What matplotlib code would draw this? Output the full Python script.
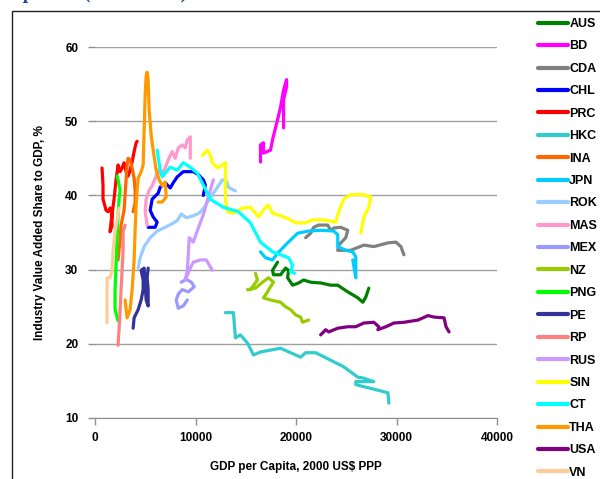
#!/usr/bin/env python
"""Industry value added share vs GDP per capita paths, by economy."""

import matplotlib
matplotlib.use("Agg")
import matplotlib.pyplot as plt
from matplotlib.patches import Rectangle

# GDP per capita (2000 US$ PPP) and industry share of GDP (%) per economy
aus_gdp = [18164, 17665, 17764, 18463, 18962, 19261, 19162, 19661, 20259, 20758, 21457,
           22455, 23453, 24152, 25150, 26148, 26647, 26946, 27245]
aus_share = [31.0, 29.9, 29.3, 29.3, 30.2, 29.9, 28.9, 27.9, 28.2, 28.6, 28.3,
             28.2, 27.9, 27.9, 27.0, 26.2, 25.6, 26.3, 27.5]

bd_gdp = [16467, 16467, 16766, 16766, 17465, 17665, 18164, 18463, 18763, 19062, 19062, 18763, 18763]
bd_share = [44.5, 46.8, 47.1, 45.7, 46.1, 47.5, 50.2, 51.9, 54.2, 55.6, 54.6, 52.9, 49.1]

cda_gdp = [20958, 21457, 21756, 22255, 23154, 23453, 23752, 24451, 25150, 24950, 24251,
           24152, 25449, 26746, 27745, 29142, 29940, 30439, 30738]
cda_share = [34.3, 34.9, 35.7, 36.0, 36.0, 35.3, 35.6, 35.7, 35.3, 34.3, 33.3,
             32.6, 32.6, 33.3, 33.1, 33.6, 33.7, 33.1, 32.0]

chl_gdp = [5289, 5988, 6188, 5788, 5489, 5689, 6287, 6487, 6986, 7485, 7784, 8184,
           8782, 9780, 10279, 10778, 10978, 10778]
chl_share = [35.7, 35.7, 36.4, 37.1, 38.0, 39.5, 40.3, 41.1, 41.7, 41.0, 41.7, 42.5,
             43.2, 43.2, 42.8, 42.1, 41.4, 40.0]

prc_gdp = [699, 798, 798, 1098, 1297, 1497, 1697, 1697, 1497, 1597, 1896, 2096, 2295,
           2495, 2695, 2894, 3094, 3293, 3493, 3693, 3892, 4092, 4192]
prc_share = [43.7, 41.4, 39.5, 38.0, 37.8, 38.3, 37.4, 35.9, 35.1, 36.4, 39.5, 42.1, 44.1,
             43.2, 43.7, 44.4, 43.2, 42.6, 43.4, 44.5, 45.9, 47.1, 47.3]

hkc_gdp = [12974, 13772, 13972, 14471, 15170, 15768, 16467, 18463, 20459, 20958, 21956,
           24750, 26148, 26647, 27745, 25948, 25948, 29142, 29242]
hkc_share = [24.2, 24.2, 20.8, 21.2, 20.1, 18.5, 18.9, 19.4, 18.2, 18.8, 18.8,
             16.9, 15.5, 15.4, 14.9, 14.9, 14.5, 13.4, 12.0]

ina_gdp = [2295, 2495, 2595, 2894, 2994, 3094, 3194, 3293, 3493, 3693, 3892, 3992, 3992, 3792]
ina_share = [31.3, 34.0, 36.0, 38.0, 40.1, 42.1, 44.1, 45.0, 44.8, 43.7, 42.3, 40.7, 39.0, 37.8]

jpn_gdp = [16467, 16966, 17665, 18164, 19162, 20160, 21257, 22455, 23752, 24152, 24152,
           24950, 25649, 25948, 25948, 25649]
jpn_share = [32.4, 31.6, 31.3, 32.2, 33.6, 34.9, 35.2, 35.3, 35.2, 34.7, 33.1,
             32.6, 32.4, 31.7, 28.9, 31.3]

rok_gdp = [4291, 4491, 4890, 5489, 6188, 6986, 7685, 8184, 8583, 9082, 9681, 10379,
           10878, 11377, 11776, 12275, 12675, 13074, 13273, 13972]
rok_share = [30.2, 31.6, 33.1, 34.3, 35.2, 35.7, 36.2, 36.6, 37.5, 37.0, 37.2, 37.6,
             38.4, 39.5, 40.3, 41.3, 42.1, 41.9, 41.1, 40.6]

mas_gdp = [5190, 4990, 5090, 5389, 5689, 5988, 6287, 6587, 6986, 7285, 7685, 7984,
           8283, 8683, 8982, 9182, 9481, 9481]
mas_share = [36.0, 37.8, 39.5, 40.7, 41.3, 42.3, 43.4, 42.8, 43.7, 44.8, 45.9, 45.0,
             46.4, 46.8, 46.4, 47.5, 47.9, 45.0]

mex_gdp = [8583, 9082, 9581, 9880, 9281, 8683, 8283, 8084, 8283, 8782, 9182]
mex_share = [28.3, 28.7, 28.3, 27.7, 27.0, 27.3, 26.7, 25.9, 24.8, 25.1, 25.9]

nz_gdp = [15968, 16167, 15469, 15170, 15968, 16667, 17265, 17764, 17465, 17166, 16766,
          17465, 18463, 18962, 19461, 19960, 20459, 20658, 21257]
nz_share = [29.5, 28.6, 27.3, 27.3, 27.5, 28.3, 28.9, 28.3, 27.7, 27.0, 26.2,
            25.9, 25.6, 25.0, 24.6, 23.9, 23.6, 22.9, 23.2]

png_gdp = [2295, 1996, 1996, 2096, 2196, 2295, 2395, 2495, 2295, 2196]
png_share = [23.1, 24.6, 27.3, 30.6, 34.0, 37.4, 39.5, 40.7, 42.1, 42.6]

pe_gdp = [3792, 3892, 4291, 4591, 4790, 4790, 4591, 4890, 4990, 5090, 5289, 5289, 5190, 5289]
pe_share = [22.1, 23.5, 24.6, 25.9, 27.3, 28.6, 29.9, 30.2, 27.9, 25.9, 25.1, 27.3, 28.9, 30.2]

rp_gdp = [2295, 2395, 2495, 2595, 2695, 2794, 2794, 2994]
rp_share = [19.8, 21.9, 24.6, 27.3, 29.9, 32.6, 35.1, 36.0]

rus_gdp = [11776, 11277, 10778, 10279, 9780, 9381, 9281, 9182, 8982, 9481, 9780, 10479, 11078, 11677]
rus_share = [42.1, 39.8, 37.4, 35.6, 33.7, 34.3, 32.0, 29.9, 28.6, 30.2, 31.0, 31.3, 31.3, 29.9]

sin_gdp = [10679, 11178, 11477, 11677, 12176, 12675, 12974, 12974, 13174, 13772, 14671,
           15469, 16267, 16966, 17265, 17665, 18164, 19162, 19960, 20958, 21656, 22754,
           23952, 24251, 24750, 25449, 26647, 27445, 27245, 26746, 26447]
sin_share = [45.4, 46.1, 45.4, 44.4, 43.7, 44.1, 44.4, 39.5, 37.8, 37.6, 38.3,
             38.4, 37.1, 38.4, 38.7, 37.6, 37.4, 36.9, 36.3, 36.3, 36.7, 36.7,
             36.4, 37.8, 39.5, 40.1, 40.1, 39.8, 38.4, 37.1, 34.9]

ct_gdp = [6188, 6487, 6687, 6986, 7485, 8184, 8782, 9481, 10180, 10778, 11477, 12774,
          14271, 15469, 16467, 17665, 19261, 19661, 19461, 19860]
ct_share = [46.1, 43.4, 42.5, 43.0, 43.8, 43.4, 44.4, 43.8, 43.0, 41.4, 39.5, 38.4,
            37.8, 36.3, 33.7, 32.4, 31.6, 30.6, 29.7, 29.5]

tha_gdp = [2994, 3194, 3493, 3693, 3892, 3992, 4092, 4192, 4291, 4591, 4790, 4890,
           4990, 5090, 5190, 5289, 5389, 5589, 5788, 6088, 6387, 6687, 6986, 7086, 6687, 6287]
tha_share = [25.9, 23.5, 24.6, 27.3, 31.3, 35.3, 38.7, 40.7, 42.3, 43.2, 44.1, 48.8,
             53.5, 56.2, 56.6, 55.6, 51.5, 48.1, 46.1, 43.4, 42.1, 41.3, 41.8, 39.8, 39.1, 39.1]

usa_gdp = [22455, 22954, 23253, 24152, 25150, 25948, 26746, 27745, 28243, 28144, 28942,
           29740, 30738, 32136, 33134, 33732, 34730, 34930, 35229]
usa_share = [21.2, 21.9, 21.6, 22.1, 22.3, 22.3, 22.8, 22.9, 22.3, 21.9, 22.3,
             22.8, 22.9, 23.2, 23.8, 23.6, 23.5, 22.3, 21.6]

vn_gdp = [1198, 1198, 1198, 1497, 1697, 1796, 1996, 2196, 2395]
vn_share = [22.8, 25.9, 28.9, 28.9, 29.9, 32.6, 35.1, 36.7, 38.3]

names = ["AUS", "BD", "CDA", "CHL", "PRC", "HKC", "INA", "JPN", "ROK", "MAS", "MEX",
         "NZ", "PNG", "PE", "RP", "RUS", "SIN", "CT", "THA", "USA", "VN"]
gdp_series = [aus_gdp, bd_gdp, cda_gdp, chl_gdp, prc_gdp, hkc_gdp, ina_gdp, jpn_gdp,
              rok_gdp, mas_gdp, mex_gdp, nz_gdp, png_gdp, pe_gdp, rp_gdp, rus_gdp,
              sin_gdp, ct_gdp, tha_gdp, usa_gdp, vn_gdp]
share_series = [aus_share, bd_share, cda_share, chl_share, prc_share, hkc_share, ina_share,
                jpn_share, rok_share, mas_share, mex_share, nz_share, png_share, pe_share,
                rp_share, rus_share, sin_share, ct_share, tha_share, usa_share, vn_share]
colors = ["#008000", "#FF00FF", "#808080", "#0000FF", "#FF0000", "#33CCCC", "#FF6600",
          "#00CCFF", "#99CCFF", "#FF99CC", "#9999FF", "#99CC00", "#00FF00", "#333399",
          "#FF8080", "#CC99FF", "#FFFF00", "#00FFFF", "#FF9900", "#800080", "#FFCC99"]

plt.rcParams["font.family"] = ["Liberation Sans", "DejaVu Sans"]

fig = plt.figure(figsize=(6.0, 4.79), dpi=100)
ax = fig.add_axes([95 / 600, 61 / 479, 402 / 600, 371 / 479])

lines = []
for name, x, y, c in zip(names, gdp_series, share_series, colors):
    (ln,) = ax.plot(x, y, color=c, lw=2.3, solid_joinstyle="round",
                    solid_capstyle="round", label=name)
    lines.append(ln)

ax.set_xlim(0, 40000)
ax.set_ylim(10, 60)
ax.set_xticks(range(0, 40001, 10000))
ax.set_yticks(range(10, 61, 10))
ax.grid(axis="y", color="#A0A0A0", lw=1)
ax.set_axisbelow(True)
for side in ["top", "right", "left"]:
    ax.spines[side].set_visible(False)
ax.spines["bottom"].set_color("#909090")
ax.tick_params(axis="both", colors="#909090", length=5, width=1,
               labelcolor="black", labelsize=8.5)
for lbl in ax.get_xticklabels() + ax.get_yticklabels():
    lbl.set_fontweight("bold")
ax.tick_params(axis="y", pad=7)
ax.tick_params(axis="x", pad=5)

ax.set_xlabel("GDP per Capita, 2000 US$ PPP", fontsize=8.5, fontweight="bold", labelpad=12)
ax.set_ylabel("Industry Value Added Share to GDP, %", fontsize=8.5, fontweight="bold",
              labelpad=14)

fig.legend(handles=lines, loc="upper left", bbox_to_anchor=(533 / 600, 1 - 13 / 479),
           frameon=False, prop={"weight": "bold", "size": 9},
           handlelength=2.4, handletextpad=0.1, labelspacing=0.835, borderaxespad=0)
for leg_line in fig.legends[0].get_lines():
    leg_line.set_linewidth(3)

# chart area border
fig.patches.append(Rectangle((12 / 600, -0.1), 1.2, 1.1 - 11 / 479, transform=fig.transFigure,
                             fill=False, edgecolor="#202020", lw=1))

# slide title running off the top edge
fig.text(190 / 600, 1.0 + 2 / 479, "Industrialization Group Data (1970\u20132008)",
         ha="right", va="baseline", fontsize=14.5, fontstyle="italic", fontweight="bold",
         color="#1F3FA0", family="Liberation Serif")

fig.savefig("out.png", dpi=100)
